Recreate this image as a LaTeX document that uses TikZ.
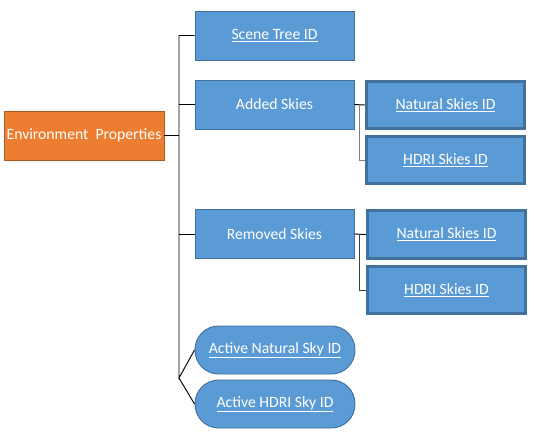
\documentclass[tikz,border=0pt]{standalone}
\usepackage{fontspec}
\setmainfont{Carlito}
\usetikzlibrary{arrows.meta,positioning,calc}
\definecolor{skyblue}{HTML}{5B9BD5}
\definecolor{skyline}{HTML}{41719C}
\definecolor{envorange}{HTML}{ED7D31}
\definecolor{envline}{HTML}{AE5A21}

\begin{document}
\begin{tikzpicture}[x=0.03cm,y=-0.03cm]
    \tikzstyle{every node} = [font=\fontsize{13.4}{16}\selectfont, text=white]
    \tikzstyle{block} = [draw=skyline, fill=skyblue, rectangle, line width=0.8pt, minimum width=4.77cm, minimum height=1.47cm]
    \tikzstyle{idbox} = [block, line width=2.4pt, minimum width=4.75cm, minimum height=1.42cm]
    \tikzstyle{pill} = [block, rounded corners=0.71cm, minimum width=4.8cm, minimum height=1.44cm]
    \useasboundingbox (0,0) rectangle (534,438);

    % place nodes
    \node[draw=envline, fill=envorange, line width=0.8pt, inner xsep=1pt, minimum width=4.8cm, minimum height=1.47cm] (env) at (84,135.5) {Environment\ \ Properties};
    \node[block] (sceneTree) at (274.5,35.5) {\underline{Scene Tree ID}};
    \node[block] (addedSkies) at (274.5,104.5) {Added Skies};
    \node[idbox] (addedNatural) at (445.5,105) {\underline{Natural Skies ID}};
    \node[idbox] (addedHdri) at (445.5,160) {\underline{HDRI Skies ID}};
    \node[block] (removedSkies) at (274.5,234) {Removed Skies};
    \node[idbox] (removedNatural) at (446.5,234.5) {\underline{Natural Skies ID}};
    \node[idbox] (removedHdri) at (446.5,290) {\underline{HDRI Skies ID}};
    \node[pill] (activeNatural) at (275,350) {\underline{Active Natural Sky ID}};
    \node[pill] (activeHdri) at (275,404) {\underline{Active HDRI Sky ID}};
    \coordinate (trunkEnd) at (179,378);

    % Connections
    \draw[thick] (sceneTree.west) -| (trunkEnd) -- (activeNatural.west);
    \draw[thick] (trunkEnd) -- (activeHdri.west);
    \draw[thick] (env.east) -- (env.east -| trunkEnd);
    \draw[thick] (addedSkies.west) -- (addedSkies.west -| trunkEnd);
    \draw[thick] (removedSkies.west) -- (removedSkies.west -| trunkEnd);
    \draw[thick] (addedSkies.east) -- (addedNatural.west);
    \draw[thick, black!50] ($(addedSkies.east)+(5,0)$) |- (addedHdri.west);
    \draw[thick] (removedSkies.east) -- (removedNatural.west);
    \draw[thick, black!75] ($(removedSkies.east)+(5,0)$) |- (removedHdri.west);

  \end{tikzpicture}
\end{document}
